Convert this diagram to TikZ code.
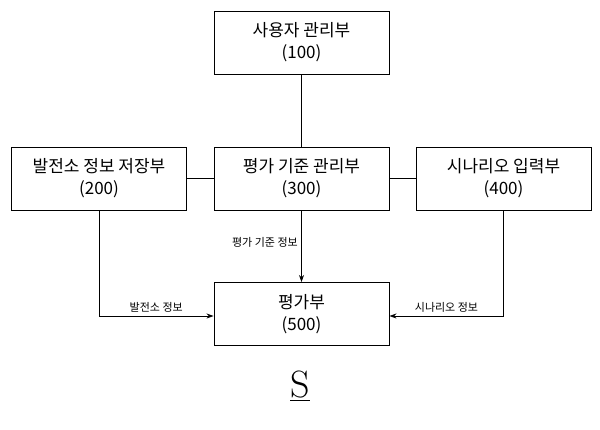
\documentclass[tikz,border=0pt]{standalone}
\usepackage{fontspec}
\newfontfamily\kr{Noto Sans CJK KR}
\usetikzlibrary{arrows.meta}
\begin{document}
\begin{tikzpicture}[x=1pt,y=-1pt,
  blk/.style={draw,line width=0.9pt,minimum width=175pt,minimum height=63pt,align=center,font=\kr\fontsize{17}{22}\selectfont},
  lbl/.style={font=\kr\fontsize{11}{13}\selectfont\slshape},
  arr/.style={line width=0.8pt,-{Stealth[length=7pt,width=5pt]}},
  ln/.style={line width=0.8pt}]
\useasboundingbox (0,0) rectangle (600,429);
\node[blk] (u) at (301.5,42.5) {사용자 관리부\\(100)};
\node[blk] (p) at (99,178.5) {발전소 정보 저장부\\(200)};
\node[blk] (c) at (301.5,178.5) {평가 기준 관리부\\(300)};
\node[blk] (s) at (503.5,178.5) {시나리오 입력부\\(400)};
\node[blk] (e) at (301.5,314) {평가부\\(500)};
\draw[ln] (u) -- (c);
\draw[ln] (p) -- (c);
\draw[ln] (c) -- (s);
\draw[arr] (c) -- node[lbl,left,pos=0.45]{평가 기준 정보} (e);
\coordinate (pl) at (99,316);
\coordinate (sr) at (503.5,316);
\draw[arr] (p.south) -- (pl) -- node[lbl,above,pos=0.5]{발전소 정보} (pl -| e.west);
\draw[arr] (s.south) -- (sr) -- node[lbl,above,pos=0.5]{시나리오 정보} (sr -| e.east);
\node[font=\fontsize{38}{38}\selectfont] (S) at (300,386) {\underline{S}};
\end{tikzpicture}
\end{document}
